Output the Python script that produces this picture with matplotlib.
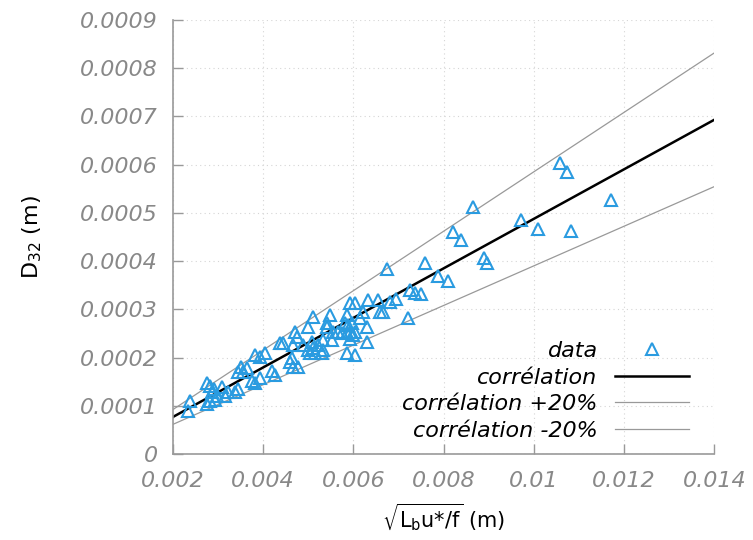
import matplotlib
matplotlib.use("Agg")
import matplotlib.pyplot as plt
import numpy as np

plt.rcParams['mathtext.fontset'] = 'dejavusans'

# mesures (x = sqrt(Lb u*/f), y = D32), en m
x_data = [0.00238, 0.00233, 0.00275, 0.00282, 0.00287, 0.00291, 0.00275, 0.00282,
          0.00293, 0.00298, 0.00309, 0.00315, 0.00322, 0.00338, 0.00344, 0.00344,
          0.00351, 0.00355, 0.00364, 0.00375, 0.00382, 0.00393, 0.00382, 0.00393,
          0.00404, 0.00420, 0.00426, 0.00437, 0.00444, 0.00460, 0.00464, 0.00466,
          0.00477, 0.00466, 0.00488, 0.00471, 0.00475, 0.00499, 0.00511, 0.00542,
          0.00548, 0.00586, 0.00588, 0.00593, 0.00615, 0.00508, 0.00511, 0.00522,
          0.00533, 0.00499, 0.00504, 0.00515, 0.00530, 0.00553, 0.00555, 0.00566,
          0.00575, 0.00593, 0.00604, 0.00630, 0.00586, 0.00604, 0.00675, 0.00759,
          0.00726, 0.00737, 0.00750, 0.00721, 0.00604, 0.00633, 0.00655, 0.00659,
          0.00666, 0.00681, 0.00695, 0.00621, 0.00542, 0.00582, 0.00597, 0.00586,
          0.00599, 0.00630, 0.00533, 0.00593, 0.00788, 0.00810, 0.01058, 0.01074,
          0.01171, 0.00865, 0.00821, 0.00839, 0.00972, 0.01010, 0.01083, 0.00890,
          0.00896]
y_data = [0.000110, 0.000089, 0.000147, 0.000141, 0.000129, 0.000135, 0.000104, 0.000110,
          0.000112, 0.000120, 0.000139, 0.000120, 0.000129, 0.000129, 0.000135, 0.000170,
          0.000180, 0.000170, 0.000178, 0.000151, 0.000147, 0.000158, 0.000205, 0.000201,
          0.000210, 0.000172, 0.000164, 0.000230, 0.000230, 0.000191, 0.000199, 0.000180,
          0.000180, 0.000226, 0.000226, 0.000253, 0.000243, 0.000263, 0.000284, 0.000263,
          0.000288, 0.000288, 0.000268, 0.000313, 0.000282, 0.000232, 0.000220, 0.000226,
          0.000216, 0.000216, 0.000210, 0.000210, 0.000210, 0.000237, 0.000253, 0.000253,
          0.000251, 0.000253, 0.000253, 0.000232, 0.000210, 0.000205, 0.000384, 0.000396,
          0.000340, 0.000334, 0.000332, 0.000282, 0.000313, 0.000320, 0.000320, 0.000295,
          0.000295, 0.000315, 0.000322, 0.000295, 0.000272, 0.000272, 0.000272, 0.000251,
          0.000247, 0.000263, 0.000237, 0.000239, 0.000369, 0.000359, 0.000604, 0.000585,
          0.000527, 0.000512, 0.000461, 0.000444, 0.000485, 0.000467, 0.000463, 0.000407,
          0.000396]

# droite de corrélation (extrémités) et bandes +/-20%
corr_x = [0.002, 0.014]
corr_y = [0.0000768, 0.000693]
ecart = 0.20

x_ticks = [0.002, 0.004, 0.006, 0.008, 0.01, 0.012, 0.014]
y_ticks = [0, 0.0001, 0.0002, 0.0003, 0.0004, 0.0005, 0.0006, 0.0007, 0.0008, 0.0009]

fig = plt.figure(figsize=(7.53, 5.40), dpi=100)
ax = fig.add_axes([0.2297, 0.1593, 0.7188, 0.8037])

ax.plot(x_data, y_data, linestyle='none', marker='^', markersize=8.5,
        markerfacecolor='none', markeredgecolor='#2a9be0', markeredgewidth=1.5,
        label='data', zorder=3)
ax.plot(corr_x, corr_y, color='black', lw=1.8, label='corrélation', zorder=2)
ax.plot(corr_x, [v * (1 + ecart) for v in corr_y], color='#999999', lw=0.9,
        label='corrélation +20%', zorder=2)
ax.plot(corr_x, [v * (1 - ecart) for v in corr_y], color='#999999', lw=0.9,
        label='corrélation -20%', zorder=2)

ax.set_xlim(0.002, 0.014)
ax.set_ylim(0, 0.0009)
ax.set_xticks(x_ticks)
ax.set_yticks(y_ticks)
ax.set_xticklabels(['%g' % v for v in x_ticks])
ax.set_yticklabels(['%g' % v for v in y_ticks])

for lab in ax.get_xticklabels() + ax.get_yticklabels():
    lab.set_fontstyle('italic')
    lab.set_color('#888888')
    lab.set_fontsize(16)

ax.tick_params(direction='in', length=7, width=1, color='#999999')
ax.tick_params(axis='y', pad=11)
ax.tick_params(axis='x', pad=12)

for s in ['top', 'right']:
    ax.spines[s].set_visible(False)
for s in ['left', 'bottom']:
    ax.spines[s].set_color('#999999')
    ax.spines[s].set_linewidth(1.2)

ax.grid(True, linestyle=(0, (1, 3)), color='#d5d5d5', lw=0.8)

ax.set_ylabel('D$_{32}$ (m)', fontsize=16, labelpad=26)
ax.set_xlabel(r'$\sqrt{\mathrm{L_b u{*}/f}}$ (m)', fontsize=15, labelpad=8)

leg = ax.legend(loc='lower right', bbox_to_anchor=(0.99, -0.016), frameon=False,
                markerfirst=False, prop={'style': 'italic', 'size': 16},
                handlelength=3.3, labelspacing=0.3, handletextpad=0.8)

fig.savefig('out.png', dpi=100)
